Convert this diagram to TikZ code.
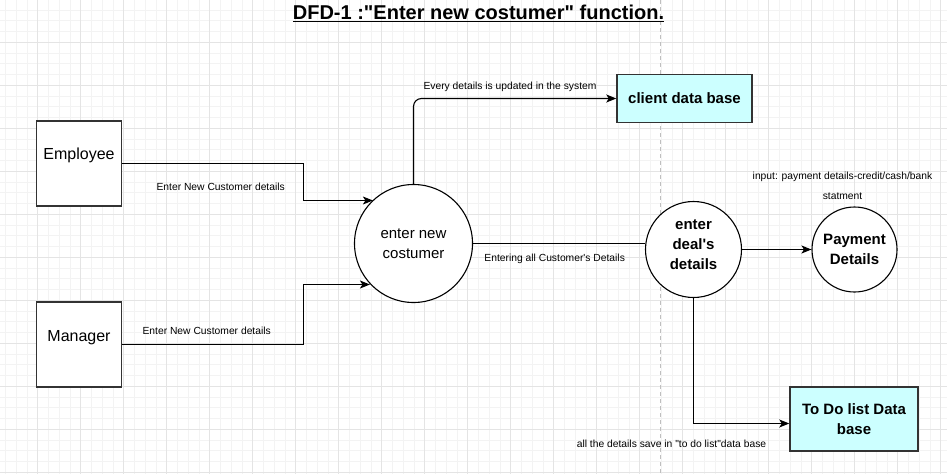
\documentclass[tikz,border=0pt]{standalone}
\usepackage{fontspec}
\setmainfont{Liberation Sans}
\newfontfamily\lsans{Liberation Sans}
\usetikzlibrary{arrows.meta,calc}
\definecolor{dbfill}{HTML}{CCFFFF}
\definecolor{gridminor}{HTML}{F3F3F3}
\definecolor{gridmajor}{HTML}{E4E4E4}
\newcommand{\dq}{\symbol{34}}
\newcommand{\sq}{\symbol{39}}
\tikzset{
  entity/.style={draw=black!80, line width=1.2pt, fill=white, minimum width=85pt, minimum height=85pt, inner sep=0pt},
  enttext/.style={font=\lsans\fontsize{16}{19}\selectfont, inner sep=0pt},
  proc/.style={circle, draw=black, line width=1.1pt, fill=white, inner sep=0pt, align=center},
  proctext/.style={font=\lsans\fontsize{15}{20}\selectfont, align=center, inner sep=0pt},
  boldproc/.style={font=\lsans\bfseries\fontsize{15}{20}\selectfont, align=center, inner sep=0pt},
  store/.style={draw=black!80, line width=1.5pt, fill=dbfill, inner sep=0pt, align=center, font=\lsans\bfseries\fontsize{15}{20}\selectfont},
  lbl/.style={font=\lsans\fontsize{10.3}{12}\selectfont, inner sep=0pt, text=black},
  flow/.style={draw=black, line width=1.1pt, -{Stealth[length=10pt,width=8pt,inset=2.5pt]}},
  plain/.style={draw=black, line width=1.1pt},
}
\begin{document}
\lsans
\begin{tikzpicture}[x=1pt,y=-1pt]
\useasboundingbox (0,0) rectangle (947,474);
\fill[white] (0,0) rectangle (947,474);
% grid
\foreach \i in {0,...,89} {
  \draw[gridminor, line width=0.8pt] ({-5.25+10.75*\i},0) -- ({-5.25+10.75*\i},474);
}
\foreach \i in {0,...,45} {
  \draw[gridminor, line width=0.8pt] (0,{-0.7+10.75*\i}) -- (947,{-0.7+10.75*\i});
}
\foreach \i in {0,...,22} {
  \draw[gridmajor, line width=0.8pt] ({-5.25+43*\i},0) -- ({-5.25+43*\i},474);
}
\foreach \i in {0,...,11} {
  \draw[gridmajor, line width=0.8pt] (0,{-0.7+43*\i}) -- (947,{-0.7+43*\i});
}
% page break line
\draw[black!25, line width=1pt, dash pattern=on 4pt off 3pt] (660.5,0) -- (660.5,474);

% title
\node[inner sep=0pt, font=\lsans\bfseries\fontsize{20}{24}\selectfont] (title) at (478.5,13) {\underline{DFD-1 :\dq Enter new costumer\dq{} function.}};

% entities
\node[entity] (emp) at (79,163.5) {};
\node[enttext] (empt) at (79,155) {Employee};
\node[entity] (man) at (79,344.5) {};
\node[enttext] (mant) at (79,338) {Manager};

% processes
\node[proc, minimum size=118pt] (enc) at (413.5,243.5) {};
\node[proctext] (enct) at (413.5,243.5) {enter new\\costumer};
\node[proc, minimum size=96pt] (deal) at (693.5,249.5) {};
\node[boldproc] (dealt) at (693.5,245) {enter\\deal\sq s\\details};
\node[proc, minimum size=85pt] (pay) at (854.5,249.5) {};
\node[boldproc] (payt) at (854.5,249.5) {Payment\\Details};

% stores
\node[store, minimum width=135pt, minimum height=48pt] (cdb) at (684.5,98.5) {client data base};
\node[store, minimum width=128pt, minimum height=64pt] (todo) at (854,419) {To Do list Data\\base};

% connectors
\draw[flow] (emp.east) -- ++(181,0) |- (enc.133.8 |- 0,200.5);
\draw[flow] (man.east) -- ++(181,0) |- (enc.223.5 |- 0,284.5);
\draw[flow, rounded corners=8pt] (enc.north) |- (cdb.west);
\draw[plain] (enc.east) -- (enc.east -| deal.west);
\draw[flow] (deal.east) -- (pay.west);
\draw[flow] (deal.south) |- ([yshift=-4.5pt]todo.west);

% labels
\node[lbl] (l1) at (220.7,187.3) {Enter New Customer details};
\node[lbl] (l2) at (206.7,331) {Enter New Customer details};
\node[lbl] (l3) at (510,87) {Every details is updated in the system};
\node[lbl] (l4) at (554.7,259.3) {Entering all Customer\sq s Details};
\node[lbl] (l5) at (842.5,177.3) {input: payment details-credit/cash/bank};
\node[lbl] (l6) at (842.5,196.7) {statment};
\node[lbl] (l7) at (671.5,444) {all the details save in \dq to do list\dq data base};
\end{tikzpicture}
\end{document}
